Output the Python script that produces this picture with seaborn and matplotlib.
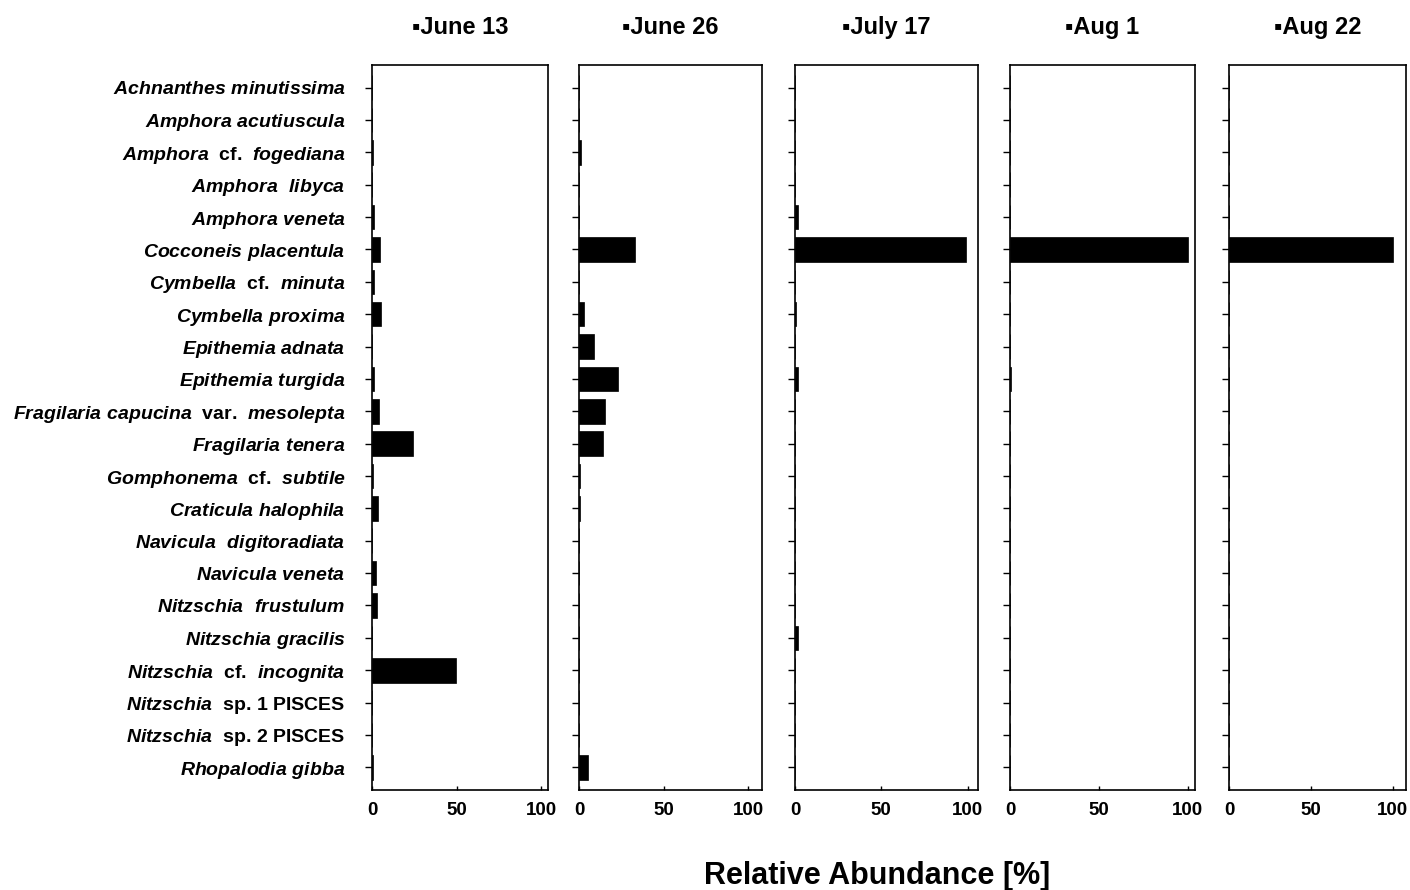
import matplotlib
matplotlib.use("Agg")
import matplotlib.pyplot as plt
import seaborn as sns

# species labels (italic parts in mathtext, qualifiers upright)
species = [
    r"$\mathit{Achnanthes\ minutissima}$",
    r"$\mathit{Amphora\ acutiuscula}$",
    r"$\mathit{Amphora}$  cf.  $\mathit{fogediana}$",
    r"$\mathit{Amphora\ \ libyca}$",
    r"$\mathit{Amphora\ veneta}$",
    r"$\mathit{Cocconeis\ placentula}$",
    r"$\mathit{Cymbella}$  cf.  $\mathit{minuta}$",
    r"$\mathit{Cymbella\ proxima}$",
    r"$\mathit{Epithemia\ adnata}$",
    r"$\mathit{Epithemia\ turgida}$",
    r"$\mathit{Fragilaria\ capucina}$  var.  $\mathit{mesolepta}$",
    r"$\mathit{Fragilaria\ tenera}$",
    r"$\mathit{Gomphonema}$  cf.  $\mathit{subtile}$",
    r"$\mathit{Craticula\ halophila}$",
    r"$\mathit{Navicula\ \ digitoradiata}$",
    r"$\mathit{Navicula\ veneta}$",
    r"$\mathit{Nitzschia\ \ frustulum}$",
    r"$\mathit{Nitzschia\ gracilis}$",
    r"$\mathit{Nitzschia}$  cf.  $\mathit{incognita}$",
    r"$\mathit{Nitzschia}$  sp. 1 PISCES",
    r"$\mathit{Nitzschia}$  sp. 2 PISCES",
    r"$\mathit{Rhopalodia\ gibba}$",
]

dates = ["June 13", "June 26", "July 17", "Aug 1", "Aug 22"]

june13 = [0, 0, 0.4, 0, 1.5, 4.5, 1, 5.5, 0, 1.5, 4, 24.5,
          0.4, 3.5, 0.3, 2.5, 3, 0, 49.5, 0, 0, 0.5]
june26 = [0, 0, 1.5, 0, 0, 33, 0, 3, 9, 23, 15.5, 14,
          0.5, 0.5, 0, 0, 0, 0, 0, 0, 0, 5.5]
july17 = [0, 0, 0, 0, 2, 99, 0, 0.5, 0, 1.5, 0, 0,
          0, 0, 0, 0, 0, 2, 0, 0, 0, 0]
aug1 = [0, 0, 0, 0, 0, 100, 0, 0, 0, 0.5, 0, 0,
        0, 0, 0, 0, 0, 0, 0, 0, 0, 0]
aug22 = [0, 0, 0, 0, 0, 100, 0, 0, 0, 0, 0, 0,
         0, 0, 0, 0, 0, 0, 0, 0, 0, 0]

series = [june13, june26, july17, aug1, aug22]

# panel placement (figure fractions) and x-extent per panel
panel_rects = [
    (0.2638, 0.1124, 0.1248, 0.8146),
    (0.4106, 0.1124, 0.1298, 0.8146),
    (0.5638, 0.1124, 0.1298, 0.8146),
    (0.7163, 0.1124, 0.1312, 0.8146),
    (0.8716, 0.1124, 0.1255, 0.8146),
]
x_right = [104, 108, 106, 104, 108]

sns.set_theme(style="white")
plt.rcParams["font.family"] = ["Liberation Sans", "DejaVu Sans"]
plt.rcParams["mathtext.fontset"] = "custom"
plt.rcParams["mathtext.it"] = "Liberation Sans:italic:bold"
plt.rcParams["mathtext.rm"] = "Liberation Sans:bold"
for key in ["text.color", "axes.labelcolor", "xtick.color", "ytick.color",
            "axes.edgecolor"]:
    plt.rcParams[key] = "black"

fig = plt.figure(figsize=(14.1, 8.9), dpi=100)

for i, (date, vals) in enumerate(zip(dates, series)):
    ax = fig.add_axes(panel_rects[i])
    sns.barplot(x=vals, y=species, ax=ax, color="black", saturation=1,
                width=0.76, orient="h", edgecolor="black", linewidth=0.5)
    ax.set_xlim(0, x_right[i])
    ax.set_ylim(len(species) - 0.3, -0.7)
    ax.set_xticks([0, 50, 100])
    ax.set_xticklabels(["0", "50", "100"], fontsize=13.5, fontweight="bold")
    ax.set_xlabel("")
    ax.set_ylabel("")
    for s in ax.spines.values():
        s.set_visible(True)
        s.set_color("black")
        s.set_linewidth(1.2)
    ax.tick_params(axis="y", left=True, length=5, width=1, direction="out",
                   pad=14, color="black")
    ax.tick_params(axis="x", bottom=True, length=3, width=1, direction="in",
                   pad=9, color="black")
    if i == 0:
        for lab in ax.get_yticklabels():
            lab.set_fontsize(14)
            lab.set_fontweight("bold")
            lab.set_color("black")
    else:
        ax.tick_params(axis="y", labelleft=False)
    ax.text(0.5, 1.052, "\u25aa" + date, transform=ax.transAxes,
            ha="center", va="center", fontsize=17, fontweight="bold",
            family=["Liberation Sans", "DejaVu Sans"])

fig.text(0.622, 0.016, "Relative Abundance [%]", ha="center", va="center",
         fontsize=22, fontweight="bold")

fig.savefig("out.png", dpi=100)
